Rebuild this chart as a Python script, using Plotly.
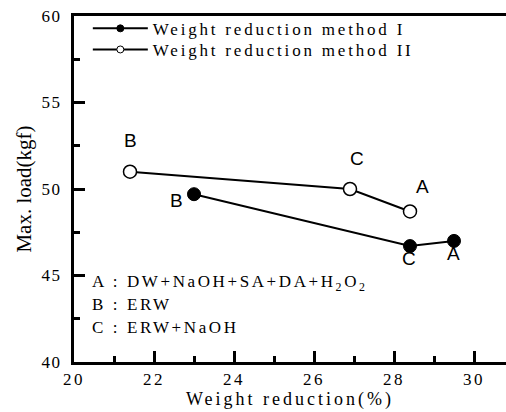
import plotly.graph_objects as go

# ---- data ----
method1_x = [23.0, 28.4, 29.5]
method1_y = [49.7, 46.7, 47.0]
method1_labels = ["B", "C", "A"]

method2_x = [21.4, 26.9, 28.4]
method2_y = [51.0, 50.0, 48.7]
method2_labels = ["B", "C", "A"]

series_names = ["Weight reduction method I", "Weight reduction method II"]
legend_notes = ["A : DW+NaOH+SA+DA+H<sub>2</sub>O<sub>2</sub>", "B : ERW", "C : ERW+NaOH"]

x_tickvals = [20, 22, 24, 26, 28, 30]
x_ticklabels = ["20", "22", "24", "26", "28", "30"]
y_tickvals = [40, 45, 50, 55, 60]
y_ticklabels = ["40", "45", "50", "55", "60"]

x_title = "Weight reduction(%)"
y_title = "Max. load(kgf)"

SERIF = "Liberation Serif, Times New Roman, serif"
SANS = "Liberation Sans, Arial, sans-serif"

def spaced(t, px=1.5):
    return '<span style="letter-spacing:%spx">%s</span>' % (px, t)

fig = go.Figure()

fig.add_trace(go.Scatter(x=method1_x, y=method1_y, mode="lines+markers",
                         line=dict(color="black", width=2),
                         marker=dict(symbol="circle", size=13, color="black",
                                     line=dict(color="black", width=1)),
                         showlegend=False))
fig.add_trace(go.Scatter(x=method2_x, y=method2_y, mode="lines+markers",
                         line=dict(color="black", width=2),
                         marker=dict(symbol="circle", size=13, color="white",
                                     line=dict(color="black", width=1.5)),
                         showlegend=False))

fig.add_trace(go.Scatter(x=[None], y=[None], mode="lines+markers", name=spaced(series_names[0], 2.8),
                         line=dict(color="black", width=2), legend="legend",
                         marker=dict(symbol="circle", size=7, color="black",
                                     line=dict(color="black", width=1))))
fig.add_trace(go.Scatter(x=[None], y=[None], mode="lines+markers", name=spaced(series_names[1], 2.8),
                         line=dict(color="black", width=2), legend="legend2",
                         marker=dict(symbol="circle", size=7, color="white",
                                     line=dict(color="black", width=1))))

annotations = []
off1 = [(-18, 6), (-1, 12), (-1, 13)]
off2 = [(0, -31), (7, -31), (12, -25)]
for xs, ys, labs, offs in [(method1_x, method1_y, method1_labels, off1),
                           (method2_x, method2_y, method2_labels, off2)]:
    for xv, yv, lab, (dx, dy) in zip(xs, ys, labs, offs):
        annotations.append(dict(x=xv, y=yv, xref="x", yref="y", text=lab,
                                showarrow=False, xshift=dx, yshift=-dy,
                                font=dict(family=SANS, size=19, color="black")))

note_y = [0.228, 0.165, 0.101]
for t, yy in zip(legend_notes, note_y):
    annotations.append(dict(x=0.037, y=yy, xref="paper", yref="paper", text=spaced(t, 2.6),
                            showarrow=False, xanchor="left", yanchor="middle", align="left",
                            font=dict(family=SERIF, size=17, color="black")))

leg_common = dict(xanchor="left", yanchor="middle", bgcolor="rgba(0,0,0,0)", borderwidth=0,
                  font=dict(family=SERIF, size=17, color="black"), itemwidth=55)

fig.update_layout(
    width=506, height=412,
    margin=dict(l=74, r=0, t=16, b=50),
    paper_bgcolor="white", plot_bgcolor="white",
    font=dict(family=SERIF, size=17, color="black"),
    showlegend=True,
    legend=dict(x=0.032, y=0.963, **leg_common),
    legend2=dict(x=0.032, y=0.902, **leg_common),
    annotations=annotations,
)

fig.update_xaxes(range=[20, 30.8], tickmode="array", tickvals=x_tickvals,
                 ticktext=[spaced(t, 2.5) for t in x_ticklabels],
                 ticks="inside", ticklen=11, tickwidth=3, tickcolor="black",
                 minor=dict(ticks="inside", ticklen=6, tickwidth=3, tickcolor="black",
                            tickmode="linear", tick0=20, dtick=1),
                 showline=True, linewidth=3, linecolor="black", mirror=True,
                 showgrid=False, zeroline=False,
                 tickfont=dict(family=SERIF, size=17),
                 title=dict(text=spaced(x_title, 3), font=dict(family=SERIF, size=18), standoff=2))
fig.update_yaxes(range=[40, 60], tickmode="array", tickvals=y_tickvals,
                 ticktext=[spaced(t, 1.5) for t in y_ticklabels],
                 ticks="inside", ticklen=11, tickwidth=3, tickcolor="black",
                 minor=dict(ticks="inside", ticklen=6, tickwidth=3, tickcolor="black",
                            tickmode="linear", tick0=40, dtick=2.5),
                 showline=True, linewidth=3, linecolor="black", mirror=False,
                 showgrid=False, zeroline=False,
                 tickfont=dict(family=SERIF, size=17), ticklabelstandoff=6,
                 title=dict(text=y_title, font=dict(family=SERIF, size=21), standoff=5))

fig.write_html("out.html", config={"displayModeBar": False, "staticPlot": True})
